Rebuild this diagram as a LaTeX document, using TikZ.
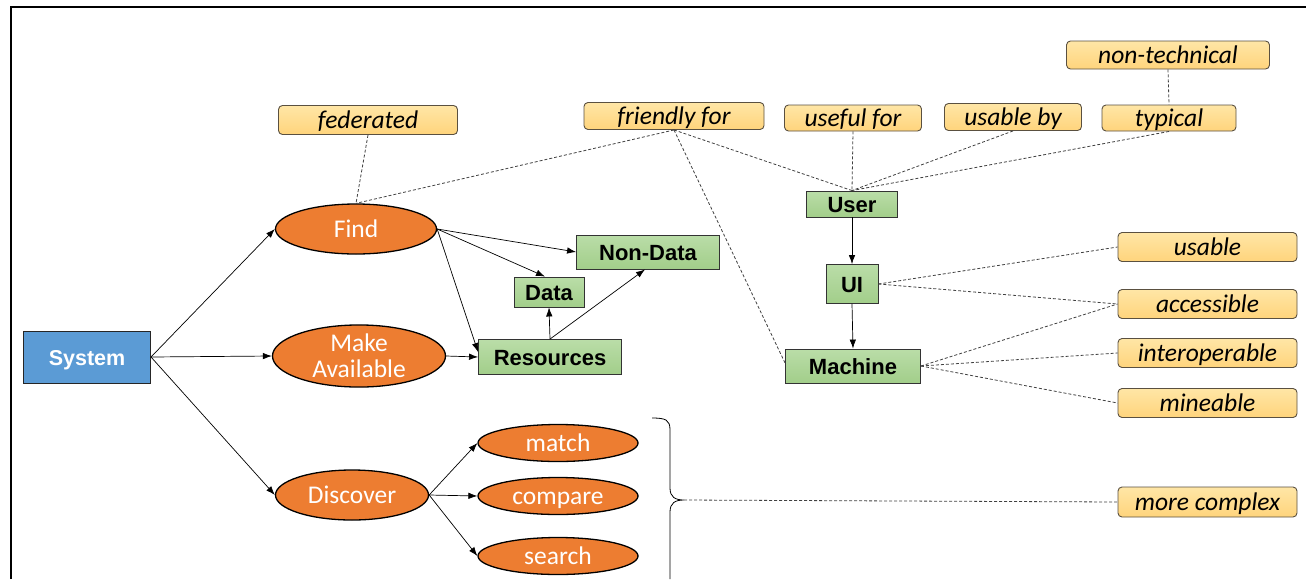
\documentclass[tikz,border=0pt]{standalone}
\usepackage{fontspec}
\setmainfont{Carlito}
\newfontfamily\arialfont{Liberation Sans}
\usetikzlibrary{arrows.meta,shapes.geometric}

\definecolor{actfill}{HTML}{ED7D31}
\definecolor{sysfill}{HTML}{5B9BD5}
\definecolor{greentop}{HTML}{BADDA8}
\definecolor{greenbot}{HTML}{A2CE8A}
\definecolor{tagtop}{HTML}{FFE6A6}
\definecolor{tagbot}{HTML}{FFD47C}
\definecolor{tagline}{HTML}{5A5040}

\tikzset{
  act/.style={ellipse, draw=black, line width=1.3pt, fill=actfill, text=white,
    font=\fontsize{25.5}{26}\selectfont, inner sep=0pt, align=center},
  oneline/.style={text height=19pt, text depth=2pt},
  resbox/.style={draw=black!80, line width=0.9pt, top color=greentop, bottom color=greenbot,
    font=\arialfont\bfseries\fontsize{22}{24}\selectfont, inner sep=0pt,
    text height=16pt, text depth=0pt},
  tag/.style={rounded corners=4pt, draw=tagline, line width=0.9pt, top color=tagtop,
    bottom color=tagbot, font=\itshape\fontsize{25.5}{27}\selectfont, inner sep=0pt,
    minimum width=179pt, minimum height=29pt, text height=19pt, text depth=2pt},
  arr/.style={-{Latex[length=9pt,width=6.5pt]}, line width=0.7pt},
  link/.style={dash pattern=on 3pt off 2pt, line width=0.8pt, draw=black!75},
}

\begin{document}
\begin{tikzpicture}[x=1pt,y=-1pt]
\useasboundingbox (0,0) rectangle (1306,579);

% frame
\draw[line width=2pt] (11,579) -- (11,7) -- (1306,7);

% system and actions
\node[draw=black!85, line width=1pt, fill=sysfill, text=white, inner sep=0pt,
  minimum width=127pt, minimum height=52pt, font=\arialfont\bfseries\fontsize{21.5}{24}\selectfont,
  text height=16pt, text depth=0pt]
  (sys) at (87,357) {System};
\node[act, oneline, minimum width=161pt, minimum height=50pt] (find) at (356,229) {Find};
\node[act, minimum width=173pt, minimum height=60pt] (avail) at (359,356) {Make\\Available};
\node[act, oneline, minimum width=153pt, minimum height=50pt] (disc) at (352,495) {Discover};
\node[act, oneline, minimum width=160pt, minimum height=37pt] (match) at (558,443) {match};
\node[act, oneline, minimum width=160pt, minimum height=37pt] (comp) at (558,496) {compare};
\node[act, oneline, minimum width=160pt, minimum height=37pt] (search) at (558,556) {search};

% resources
\node[resbox, minimum width=70pt, minimum height=30pt] (data) at (549,292) {Data};
\node[resbox, minimum width=143pt, minimum height=34pt] (nondata) at (648,252) {Non-Data};
\node[resbox, minimum width=143pt, minimum height=35pt] (res) at (550,357) {Resources};

% user side
\node[resbox, minimum width=91pt, minimum height=26pt] (user) at (852,204) {User};
\node[resbox, minimum width=52pt, minimum height=39pt] (ui) at (852,284) {UI};
\node[resbox, minimum width=135pt, minimum height=34pt] (mach) at (853,366) {Machine};

% qualifiers
\node[tag] (fed) at (368,120) {federated};
\node[tag, minimum width=180pt, minimum height=27pt] (friend) at (674,116) {friendly for};
\node[tag, minimum width=137pt, minimum height=26pt] (useful) at (853,118) {useful for};
\node[tag, minimum width=137pt, minimum height=27pt] (usableby) at (1013,117) {usable by};
\node[tag, minimum width=134pt, minimum height=26pt] (typ) at (1169,118) {typical};
\node[tag, minimum width=203pt, minimum height=28pt] (nontech) at (1168,55) {non-technical};
\node[tag] (usable) at (1207.5,247) {usable};
\node[tag] (access) at (1207.5,304) {accessible};
\node[tag] (inter) at (1207.5,353) {interoperable};
\node[tag] (mine) at (1207.5,403) {mineable};
\node[tag, minimum height=30pt] (complex) at (1207.5,502) {more complex};

% brace grouping the discovery actions
\coordinate (bracetip) at (684,500);
\draw[line width=0.8pt] (652,418) .. controls (666,418) and (670,420) .. (670,430)
  -- (670,488) .. controls (670,497) and (675,500) .. (bracetip)
  .. controls (675,500) and (670,503) .. (670,512) -- (670,579);

% solid arrows
\draw[arr] (sys.east) -- (find.west);
\draw[arr] (sys.east) -- (avail.west);
\draw[arr] (sys.east) -- (disc.west);
\draw[arr] (find.east) -- (nondata.west);
\draw[arr] (find.east) -- ([xshift=-4pt]data.north);
\draw[arr] (find.east) -- ([yshift=5pt]res.west);
\draw[arr] (avail.east) -- (res.west);
\draw[arr] (res.north) -- (data.south);
\draw[arr] (res.north) -- ([xshift=-3pt]nondata.south);
\draw[arr] (disc.east) -- (match.west);
\draw[arr] (disc.east) -- (comp.west);
\draw[arr] (disc.east) -- (search.west);
\draw[arr] (user.south) -- (ui.north);
\draw[arr] (ui.south) -- (mach.north);

% dashed associations
\draw[link] (fed.south) -- (find.north);
\draw[link] (friend.south) -- (find.north);
\draw[link] (friend.south) -- (user.north);
\draw[link] (friend.south) -- ([yshift=3pt]mach.west);
\draw[link] (useful.south) -- (user.north);
\draw[link] (usableby.south) -- (user.north);
\draw[link] (typ.south) -- (user.north);
\draw[link] (nontech.south) -- (typ.north);
\draw[link] (ui.east) -- (usable.west);
\draw[link] (ui.east) -- (access.west);
\draw[link] (mach.east) -- (access.west);
\draw[link] (mach.east) -- (inter.west);
\draw[link] (mach.east) -- (mine.west);
\draw[link] (bracetip) -- (complex.west);
\end{tikzpicture}
\end{document}
